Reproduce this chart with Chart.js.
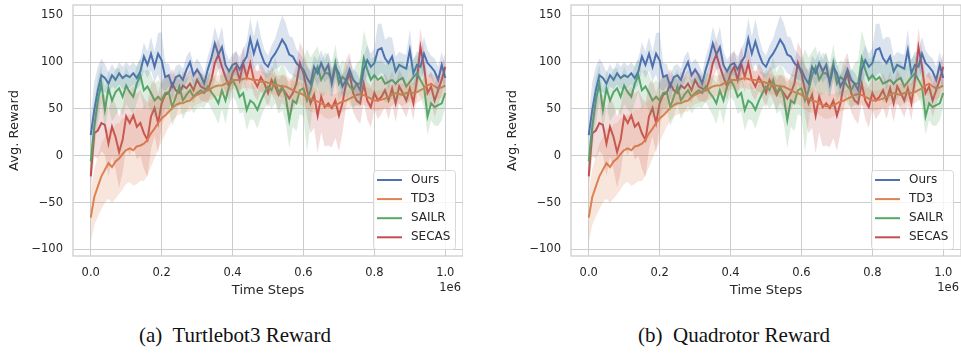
<!DOCTYPE html>
<html>
<head>
<meta charset="utf-8">
<script src="https://cdn.jsdelivr.net/npm/chart.js@4.4.0/dist/chart.umd.min.js"></script>
<style>
  body { margin: 0; background: #fff; width: 961px; height: 356px; position: relative; overflow: hidden; }
  canvas { position: absolute; top: 0; }
  .cap { position: absolute; top: 323px; font-family: 'Liberation Serif', serif; font-size: 21px; color: #111; transform: translateX(-50%); white-space: pre; }
</style>
</head>
<body>
<canvas id="chartA" width="463" height="300" style="left:0px"></canvas>
<canvas id="chartB" width="463" height="300" style="left:498px"></canvas>
<div class="cap" style="left:235px">(a)  Turtlebot3 Reward</div>
<div class="cap" style="left:734px">(b)  Quadrotor Reward</div>
<script>
// time steps, in units of 1e6
const steps = [0.00,0.01,0.02,0.03,0.04,0.05,0.06,0.07,0.08,0.09,
  0.10,0.11,0.12,0.13,0.14,0.15,0.16,0.17,0.18,0.19,
  0.20,0.21,0.22,0.23,0.24,0.25,0.26,0.27,0.28,0.29,
  0.30,0.31,0.32,0.33,0.34,0.35,0.36,0.37,0.38,0.39,
  0.40,0.41,0.42,0.43,0.44,0.45,0.46,0.47,0.48,0.49,
  0.50,0.51,0.52,0.53,0.54,0.55,0.56,0.57,0.58,0.59,
  0.60,0.61,0.62,0.63,0.64,0.65,0.66,0.67,0.68,0.69,
  0.70,0.71,0.72,0.73,0.74,0.75,0.76,0.77,0.78,0.79,
  0.80,0.81,0.82,0.83,0.84,0.85,0.86,0.87,0.88,0.89,
  0.90,0.91,0.92,0.93,0.94,0.95,0.96,0.97,0.98,0.99,1.00];

const labels = ['Ours', 'TD3', 'SAILR', 'SECAS'];

// mean reward
const ours = [22,49,70,86,83,77,86,81,88,83, 86,84,88,83,90,106,97,109,95,109,
  102,84,86,74,84,86,81,92,100,86, 92,86,77,92,104,120,108,116,97,90,
  97,99,92,100,106,125,109,122,109,99, 95,104,109,116,124,118,108,106,99,95,
  92,83,77,95,88,99,90,97,77,95, 88,74,81,92,81,77,70,92,102,95,
  99,113,115,104,99,106,90,97,95,93, 113,88,97,95,109,99,95,90,81,97,83];
const td3 = [-66,-44,-33,-22,-15,-8,-12,-6,-3,2, 6,8,6,10,11,13,17,24,29,35,
  40,43,47,51,54,56,56,58,59,63, 65,67,68,70,72,74,75,75,77,79,
  81,81,81,82,83,82,81,81,79,79, 78,77,75,75,74,74,72,70,68,67,
  65,63,61,59,58,56,54,53,53,54, 56,58,59,61,63,65,66,65,63,61,
  59,59,60,61,63,65,67,66,65,67, 68,67,68,70,72,75,77,74,72,73,75];
const sailr = [-6,31,59,77,49,72,59,68,72,63, 75,68,63,77,86,70,74,67,59,63,
  59,67,68,52,63,74,59,65,70,63, 67,70,67,74,68,63,56,70,59,74,
  81,74,63,67,49,59,56,49,59,67, 74,70,81,67,74,63,38,59,56,70,
  72,59,70,86,95,81,88,88,81,99, 77,84,81,74,70,77,77,104,92,81,
  86,81,84,77,79,81,77,81,83,74, 79,84,88,81,74,42,56,52,54,56,67];
const secas = [-22,24,27,35,33,13,31,20,4,17, 42,35,43,31,35,24,17,42,51,35,
  56,65,67,77,70,67,75,72,77,70, 81,74,72,70,81,99,108,95,84,74,
  88,95,81,99,84,99,81,74,84,77, 67,81,74,65,72,67,61,67,77,99,
  88,70,56,65,43,63,52,56,51,59, 43,56,77,88,67,59,56,77,59,52,
  67,59,63,70,59,72,56,74,67,59, 72,56,81,116,95,67,74,59,70,81,95];

// half width of the shaded band
const oursSpread = [20,30,25,18,15,12,12,10,12,12, 14,12,12,12,14,15,14,18,16,22,
  30,15,12,12,12,12,12,14,12,12, 12,12,12,14,14,18,16,22,15,12,
  12,12,14,14,16,22,18,24,18,14, 12,14,16,22,26,24,20,20,15,14,
  12,12,14,12,14,14,12,14,14,12, 12,12,12,12,12,12,12,15,16,14,
  16,28,26,20,28,20,16,14,14,15, 22,14,15,14,18,14,12,14,14,14,14];
const td3Spread = [28,30,32,35,35,38,38,40,38,38, 36,36,38,40,38,40,38,36,32,28,
  25,20,16,14,12,12,11,11,12,11, 10,11,10,11,12,12,11,11,10,11,
  10,10,11,10,10,11,10,10,11,10, 10,11,10,11,12,12,11,10,11,12,
  12,13,14,13,12,12,13,14,13,12, 12,11,10,11,10,11,12,11,10,11,
  10,11,10,11,12,11,10,11,12,11, 10,11,12,11,10,11,12,11,12,11,12];
const sailrSpread = [12,25,25,20,22,20,22,25,22,20, 20,18,20,20,18,20,18,20,18,18,
  18,16,18,20,22,18,20,18,16,18, 16,18,16,16,18,20,22,20,25,20,
  18,16,18,20,22,20,18,20,18,16, 18,20,25,22,25,28,30,28,30,25,
  30,55,35,25,22,20,22,20,18,20, 18,18,18,18,20,22,25,30,28,22,
  20,20,18,20,22,20,22,20,18,20, 18,20,20,18,22,20,18,20,22,18,15];
const secasSpread = [15,25,30,30,32,35,32,35,38,35, 32,35,32,35,35,38,40,35,30,32,
  25,20,18,16,15,14,15,14,15,14, 14,15,14,14,15,18,16,18,16,15,
  16,18,16,18,16,18,16,15,15,15, 16,15,15,16,15,16,18,18,20,22,
  25,28,32,35,40,38,42,45,42,40, 38,32,25,22,20,20,22,20,20,22,
  18,20,18,18,20,18,20,18,18,18, 18,18,18,20,18,16,16,18,16,15,15];

const yTicks = [-100, -50, 0, 50, 100, 150];

const colors = ['#4c72b0', '#dd8452', '#55a868', '#c44e52'];
const fills = ['rgba(76,114,176,0.2)', 'rgba(221,132,82,0.2)', 'rgba(85,168,104,0.2)', 'rgba(196,78,82,0.2)'];
const means = [ours, td3, sailr, secas];
const spreads = [oursSpread, td3Spread, sailrSpread, secasSpread];

const txt = '#262626';
const gridCol = '#cccccc';
const font = 'DejaVu Sans';

const extras = {
  id: 'extras',
  beforeDatasetsDraw(chart) {
    const {ctx, chartArea: a} = chart;
    ctx.save();
    ctx.strokeStyle = gridCol;
    ctx.lineWidth = 1.25;
    ctx.strokeRect(a.left, a.top, a.right - a.left, a.bottom - a.top);
    ctx.restore();
  },
  afterDraw(chart) {
    const {ctx, chartArea: a} = chart;
    ctx.save();
    // offset text
    ctx.font = '11.5px "' + font + '"';
    ctx.fillStyle = txt;
    ctx.textAlign = 'right';
    ctx.textBaseline = 'middle';
    ctx.fillText('1e6', a.right - 2, 288);
    // legend
    const w = 82, h = 79;
    const x0 = a.right - 8 - w, y0 = a.bottom - 7 - h;
    ctx.beginPath();
    ctx.roundRect(x0 + 0.5, y0 + 0.5, w, h, 3);
    ctx.fillStyle = 'rgba(255,255,255,0.8)';
    ctx.fill();
    ctx.strokeStyle = '#d8d8d8';
    ctx.lineWidth = 1;
    ctx.stroke();
    ctx.textAlign = 'left';
    ctx.font = '12px "' + font + '"';
    labels.forEach((l, i) => {
      const y = y0 + 10 + i * 19.1;
      ctx.strokeStyle = colors[i];
      ctx.lineWidth = 2;
      ctx.beginPath();
      ctx.moveTo(x0 + 4, y);
      ctx.lineTo(x0 + 29, y);
      ctx.stroke();
      ctx.fillStyle = txt;
      ctx.fillText(l, x0 + 38, y);
    });
    ctx.restore();
  }
};

function makeChart(id) {
  const datasets = [];
  means.forEach((m, i) => {
    datasets.push({
      data: steps.map((s, j) => ({x: s, y: m[j] + spreads[i][j]})),
      borderWidth: 0, pointRadius: 0, backgroundColor: fills[i], fill: '+1'
    });
    datasets.push({
      data: steps.map((s, j) => ({x: s, y: m[j] - spreads[i][j]})),
      borderWidth: 0, pointRadius: 0, fill: false
    });
  });
  means.forEach((m, i) => {
    datasets.push({
      label: labels[i],
      data: steps.map((s, j) => ({x: s, y: m[j]})),
      borderColor: colors[i], borderWidth: 2, pointRadius: 0, fill: false
    });
  });

  return new Chart(document.getElementById(id), {
    type: 'line',
    data: {datasets: datasets},
    plugins: [extras],
    options: {
      responsive: false,
      animation: false,
      layout: {padding: {top: 5, left: 0, right: 0, bottom: 2}},
      plugins: {legend: {display: false}, tooltip: {enabled: false}},
      scales: {
        x: {
          type: 'linear', min: -0.05, max: 1.05,
          border: {display: false},
          grid: {color: gridCol, lineWidth: 1, drawTicks: false},
          ticks: {stepSize: 0.2, includeBounds: false, padding: 10, color: txt,
            font: {family: font, size: 11.5}, callback: v => v.toFixed(1), maxRotation: 0},
          title: {display: true, text: 'Time Steps', color: txt, font: {family: font, size: 13}, padding: {top: 0, bottom: 0}},
          afterFit: s => { s.height = 42; s.paddingLeft = 0; s.paddingRight = 0; }
        },
        y: {
          min: -107, max: 161,
          border: {display: false},
          grid: {color: gridCol, lineWidth: 1, drawTicks: false},
          afterBuildTicks: s => { s.ticks = yTicks.map(v => ({value: v})); },
          ticks: {padding: 10, color: txt, font: {family: font, size: 11.5},
            callback: v => v < 0 ? '\u2212' + Math.abs(v) : String(v)},
          title: {display: true, text: 'Avg. Reward', color: txt, font: {family: font, size: 13}, padding: {top: 7, bottom: 0}},
          afterFit: s => { s.width = 73; s.paddingTop = 0; s.paddingBottom = 0; }
        }
      }
    }
  });
}

makeChart('chartA');
makeChart('chartB');
</script>
</body>
</html>
